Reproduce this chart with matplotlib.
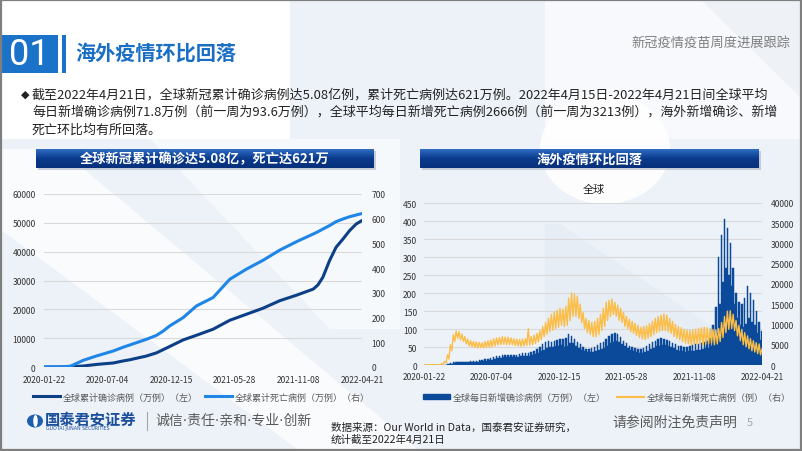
import numpy as np
import pandas as pd
import matplotlib
matplotlib.use('Agg')
import matplotlib.pyplot as plt
from matplotlib.patches import Rectangle, Polygon, Ellipse
from matplotlib.lines import Line2D
from matplotlib.colors import LinearSegmentedColormap

plt.rcParams['font.family'] = ['Noto Sans CJK SC', 'DejaVu Sans']

# left chart - cumulative cases / deaths (万例)
cum_dates = ['2020-01-22', '2020-02-29', '2020-03-29', '2020-04-06', '2020-05-02',
             '2020-06-06', '2020-07-19', '2020-08-13', '2020-08-30', '2020-10-12',
             '2020-11-07', '2020-11-24', '2020-12-11', '2021-01-15', '2021-02-18',
             '2021-04-02', '2021-05-15', '2021-06-27', '2021-08-09', '2021-09-21',
             '2021-11-03', '2021-12-16', '2021-12-28', '2022-01-10', '2022-01-27',
             '2022-02-13', '2022-03-03', '2022-03-20', '2022-04-06', '2022-04-21']
cum_cases = [0, 8, 70, 130, 340, 900, 1400, 2100, 2500, 3800,
             4900, 6000, 7100, 9400, 11000, 13100, 16200, 18300, 20400, 23000,
             24900, 27000, 28400, 31100, 36800, 41500, 44400, 47300, 49600, 50800]
cum_deaths = [0, 0.3, 3, 8, 27, 45, 65, 80, 89, 112,
              128, 145, 166, 200, 247, 281, 355, 396, 432, 473,
              507, 538, 547, 558, 572, 588, 599, 608, 615, 621]

# right chart - daily new cases (万例) and deaths (例), weekly high / low of the saw-tooth
week_start = '2020-01-22'
cases_hi = [0.05, 0.3, 0.35, 0.3, 0.2, 0.3, 0.4, 1.0, 2.5, 6,
            8, 9, 9, 9, 9, 9.5, 10, 11, 12, 13,
            14, 15.5, 18, 20, 22, 24, 26, 27, 27, 28,
            27, 28, 29, 31, 32, 32, 34, 37, 40, 45,
            51, 58, 64, 66, 65, 68, 70, 73, 72, 74,
            85, 80, 72, 65, 57, 50, 45, 45, 48, 51,
            55, 60, 65, 72, 80, 87, 88, 85, 78, 68,
            60, 54, 50, 46, 44, 44, 47, 52, 58, 63,
            68, 72, 74, 73, 70, 66, 62, 57, 54, 52,
            50, 51, 53, 55, 57, 59, 62, 65, 68, 75,
            110, 160, 300, 360, 405, 380, 340, 270, 200, 175,
            170, 185, 220, 200, 180, 150, 120, 95]
cases_lo = [0.02, 0.2, 0.25, 0.1, 0.1, 0.2, 0.3, 0.6, 1.5, 4,
            6.5, 7, 7, 7, 7, 7.5, 8, 8.5, 9, 10,
            11, 12, 14, 15, 17, 19, 20, 21, 21, 22,
            21, 22, 23, 24, 25, 25, 26, 28, 31, 34,
            38, 43, 48, 50, 50, 52, 53, 55, 50, 52,
            62, 60, 54, 48, 43, 38, 35, 35, 37, 39,
            42, 45, 48, 54, 60, 65, 66, 63, 58, 52,
            46, 42, 39, 36, 34, 33, 35, 39, 44, 48,
            52, 54, 55, 55, 52, 49, 46, 43, 40, 38,
            37, 38, 39, 40, 42, 43, 45, 46, 48, 52,
            65, 90, 170, 230, 270, 250, 220, 170, 130, 110,
            105, 115, 130, 120, 110, 90, 70, 60]
deaths_hi = [20, 50, 80, 110, 90, 80, 300, 900, 2500, 5000,
             7500, 8400, 8200, 7600, 7000, 6400, 6000, 5800, 5700, 5600,
             5500, 5800, 6000, 6200, 6500, 6700, 6800, 7000, 6900, 6900,
             6700, 6500, 6400, 6300, 6400, 6500, 9000, 7000, 7400, 7800,
             8500, 9500, 10500, 11500, 12500, 13000, 13500, 14000, 13800, 14500,
             16500, 17800, 17500, 17000, 15000, 13000, 11500, 11000, 10500, 10800,
             11500, 12500, 14000, 15500, 16000, 16300, 15500, 14800, 14000, 13000,
             12000, 11300, 10800, 10300, 9800, 9300, 9500, 9700, 10200, 10800,
             11500, 12000, 12300, 12600, 12300, 11500, 10800, 10000, 9500, 9200,
             8800, 8600, 8500, 8600, 8800, 9000, 9200, 9300, 9200, 9000,
             8800, 8700, 9000, 10500, 12000, 13300, 13400, 12500, 11000, 9800,
             8800, 8000, 7200, 6500, 6000, 5500, 5200, 4000]
deaths_lo = [10, 30, 50, 80, 60, 50, 200, 500, 1500, 3500,
             5800, 6600, 6200, 5800, 5200, 4700, 4500, 4300, 4200, 4300,
             4200, 4300, 4400, 4500, 4700, 4900, 5000, 5100, 5000, 5000,
             5000, 4800, 4700, 4600, 4700, 4800, 4900, 5000, 5300, 5700,
             6200, 7000, 7600, 8200, 8600, 9000, 9300, 9800, 9500, 9800,
             11000, 12000, 12000, 11500, 10500, 9000, 8000, 7500, 7000, 7000,
             7500, 8500, 9500, 11000, 12000, 12500, 12000, 11000, 10500, 9500,
             9000, 8200, 7800, 7300, 6800, 6400, 6300, 6600, 7000, 7500,
             8000, 8300, 8500, 8500, 8200, 7800, 7000, 6600, 6200, 5800,
             5400, 5200, 5000, 5000, 5200, 5200, 5000, 5100, 5200, 5400,
             5000, 5200, 5800, 6800, 8000, 8800, 9000, 8500, 7200, 6000,
             5000, 4500, 4000, 3500, 3200, 2800, 2500, 2300]

date_ticks = ['2020-01-22', '2020-07-04', '2020-12-15', '2021-05-28', '2021-11-08', '2022-04-21']

W, H = 802, 452
fig = plt.figure(figsize=(W / 100, H / 100), dpi=100)
fig.patch.set_facecolor('#edf2f8')

def T(x, y, s, **kw):
    return fig.text(x / W, 1 - y / H, s, **kw)

def box(x0, y0, x1, y1):
    return [x0 / W, 1 - y1 / H, (x1 - x0) / W, (y1 - y0) / H]

# background decoration (pixel coordinates)
bg = fig.add_axes([0, 0, 1, 1])
bg.set_xlim(0, W)
bg.set_ylim(H, 0)
bg.axis('off')
bg.set_zorder(-1)
bg.add_patch(Rectangle((0, 0), 290, 140, color='white', lw=0))
bg.add_patch(Rectangle((545, 0), 257, 140, color='#f7f9fc', lw=0))
bg.add_patch(Polygon([[0, 150], [60, 150], [420, 452], [300, 452], [0, 230]], color='white', alpha=0.75, lw=0))
bg.add_patch(Polygon([[150, 140], [400, 140], [400, 330], [330, 330]], color='white', alpha=0.55, lw=0))
bg.add_patch(Ellipse((605, 150), 130, 110, color='white', alpha=0.9, lw=0))
bg.add_patch(Polygon([[545, 225], [560, 225], [760, 360], [545, 360]], color='#e3eaf3', alpha=0.6, lw=0))
bg.add_patch(Polygon([[700, 0], [802, 0], [802, 100]], color='#eef2f7', lw=0))
# shadows of the banners
bg.add_patch(Rectangle((38, 152), 338, 19, color='#9aa7b8', alpha=0.5, lw=0))
bg.add_patch(Rectangle((422, 152), 339, 19, color='#9aa7b8', alpha=0.5, lw=0))
# header block
bg.add_patch(Rectangle((0, 36), 58, 38, color='#1b73c9', lw=0))
bg.add_patch(Rectangle((62, 36), 4, 38, color='#1b73c9', lw=0))
# logo
bg.add_patch(Ellipse((35, 422), 16, 13, color='#1b5fae', lw=0))
bg.add_patch(Ellipse((35.5, 422), 4.5, 12, color='white', lw=0))
bg.plot([147, 147], [413, 431], color='#a6a6a6', lw=0.8)
# slide border
bg.add_patch(Rectangle((0.5, 0.5), W - 1.5, H - 1.5, fill=False, ec='#7f7f7f', lw=1.6))

# header texts
T(29, 55, '01', color='white', fontsize=26, family='Roboto', ha='center', va='center')
T(75, 54, '海外疫情环比回落', color='#1a6fc4', fontsize=14.5, fontweight='bold', va='center')
T(790, 43, '新冠疫情疫苗周度进展跟踪', color='#7f7f7f', fontsize=9.5, ha='right', va='center')

T(21, 95, '◆', color='#222222', fontsize=8, va='center', family=['DejaVu Sans'])
body = ['截至2022年4月21日，全球新冠累计确诊病例达5.08亿例，累计死亡病例达621万例。2022年4月15日-2022年4月21日间全球平均',
        '每日新增确诊病例71.8万例（前一周为93.6万例），全球平均每日新增死亡病例2666例（前一周为3213例），海外新增确诊、新增',
        '死亡环比均有所回落。']
for i, line in enumerate(body):
    T(32, 95 + i * 17.5, line, color='#222222', fontsize=9.35, va='center')

# banners
grad = np.linspace(0, 1, 50).reshape(-1, 1)
cmap = LinearSegmentedColormap.from_list('bn', ['#2f6cc2', '#0a3a8c', '#07307a'])
for (x0, x1), title in [((36, 374), '全球新冠累计确诊达5.08亿，死亡达621万'),
                        ((420, 759), '海外疫情环比回落')]:
    ab = fig.add_axes(box(x0, 150, x1, 169))
    ab.imshow(grad, aspect='auto', cmap=cmap)
    ab.axis('off')
    T((x0 + x1) / 2, 159.5, title, color='white', fontsize=9.5, fontweight='bold', ha='center', va='center')

tick_col = '#333333'
grid_col = '#d9d9d9'
tick_size = 6.1
tick_dates = pd.to_datetime(date_ticks)
x0d, x1d = pd.Timestamp('2020-01-22'), pd.Timestamp('2022-04-21')

# ---------------- left chart ----------------
ax = fig.add_axes(box(44, 195, 362, 368))
ax2 = ax.twinx()
d = pd.to_datetime(cum_dates)
ax.plot(d, cum_cases, color='#0d3f86', lw=2.2, solid_capstyle='round')
ax2.plot(d, cum_deaths, color='#1f86e8', lw=2.2, solid_capstyle='round')
ax.set_ylim(0, 60000)
ax.set_yticks(range(0, 60001, 10000))
ax2.set_ylim(0, 700)
ax2.set_yticks(range(0, 701, 100))
ax.set_xlim(x0d, x1d)
ax.set_xticks(tick_dates)
ax.set_xticklabels(date_ticks)
ax.yaxis.grid(True, color=grid_col, lw=0.8)
ax.set_axisbelow(True)
ax.set_facecolor('none')
for a in (ax, ax2):
    for s in a.spines.values():
        s.set_visible(False)
    a.tick_params(length=0, labelsize=tick_size, labelcolor=tick_col)
ax.tick_params(axis='x', pad=6)
ax.tick_params(axis='y', pad=6)
ax2.tick_params(axis='y', pad=7)
ax2.set_zorder(ax.get_zorder() + 1)
ax2.patch.set_visible(False)

h = [Line2D([], [], color='#0d3f86', lw=2.2), Line2D([], [], color='#1f86e8', lw=2.2)]
fig.legend(h, ['全球累计确诊病例（万例）（左）', '全球累计死亡病例（万例）（右）'],
           loc='center', bbox_to_anchor=(201 / W, 1 - 398 / H), ncol=2, frameon=False,
           fontsize=6.5, handlelength=3.0, columnspacing=0.8, handletextpad=0.3,
           labelcolor='#595959')

# ---------------- right chart ----------------
T(594, 190, '全球', color='#222222', fontsize=8, ha='center', va='center')
bx = fig.add_axes(box(424, 204, 762, 366))
bx2 = bx.twinx()
weeks = pd.date_range(week_start, periods=len(cases_hi), freq='7D')
xs = np.empty(2 * len(weeks), dtype='datetime64[ns]')
xs[0::2] = (weeks + pd.Timedelta(days=1)).values
xs[1::2] = (weeks + pd.Timedelta(days=4.5)).values
cases = np.empty(len(xs))
cases[0::2] = cases_hi
cases[1::2] = cases_lo
deaths = np.empty(len(xs))
deaths[0::2] = deaths_hi
deaths[1::2] = deaths_lo
xs = pd.to_datetime(xs)
bx.bar(xs, cases, width=3.5, color='#0b4a9a', ec='#0b4a9a', lw=0.35)
bx2.plot(xs, deaths, color='#fbbd45', lw=1.0)
bx.set_ylim(0, 450)
bx.set_yticks(range(0, 451, 50))
bx2.set_ylim(0, 40000)
bx2.set_yticks(range(0, 40001, 5000))
bx.set_xlim(x0d, x1d)
bx.set_xticks(tick_dates)
bx.set_xticklabels(date_ticks)
bx.yaxis.grid(True, color=grid_col, lw=0.8)
bx.set_axisbelow(True)
bx.set_facecolor('none')
for a in (bx, bx2):
    for s in a.spines.values():
        s.set_visible(False)
    a.tick_params(length=0, labelsize=tick_size, labelcolor=tick_col)
bx.tick_params(axis='x', pad=5)
bx.tick_params(axis='y', pad=5)
bx2.tick_params(axis='y', pad=6)

h2 = [Rectangle((0, 0), 1, 1, color='#0b4a9a'), Line2D([], [], color='#fbbd45', lw=1.5)]
fig.legend(h2, ['全球每日新增确诊病例（万例）（左）', '全球每日新增死亡病例（例）（右）'],
           loc='center', bbox_to_anchor=(607 / W, 1 - 398 / H), ncol=2, frameon=False,
           fontsize=6.5, handlelength=3.0, handleheight=0.6, columnspacing=1.2, handletextpad=0.3,
           labelcolor='#595959')

# footer
T(45, 419, '国泰君安证券', color='#1b4f9c', fontsize=11, fontweight='bold', va='center')
T(46, 428.5, 'GUOTAI JUNAN SECURITIES', color='#1b4f9c', fontsize=3.4, va='center', family=['DejaVu Sans'])
T(155, 421, '诚信·责任·亲和·专业·创新', color='#595959', fontsize=10, va='center',
  family=['DejaVu Sans', 'Noto Sans CJK SC'])
T(331, 428, '数据来源：Our World in Data，国泰君安证券研究，', color='#222222', fontsize=7.6, va='center')
T(331, 440, '统计截至2022年4月21日', color='#222222', fontsize=7.6, va='center')
T(612, 423, '请参阅附注免责声明', color='#595959', fontsize=10, va='center')
T(747, 423, '5', color='#a6a6a6', fontsize=8, va='center')

fig.savefig('out.png', dpi=100, facecolor=fig.get_facecolor())
